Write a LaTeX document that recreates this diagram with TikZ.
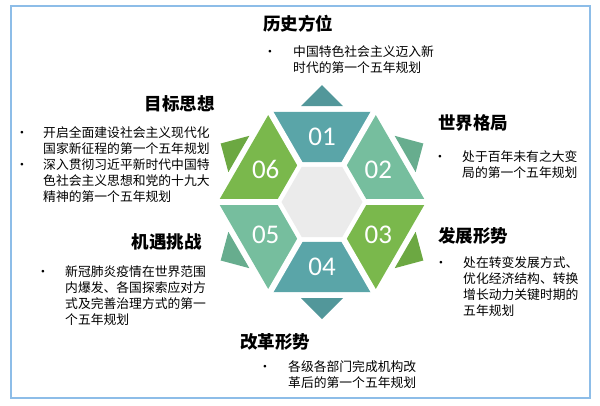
\documentclass[tikz,border=0pt]{standalone}
\usepackage{fontspec}
\setmainfont{Noto Sans CJK SC}
\newfontfamily\numfont{Carlito}
\usetikzlibrary{calc}
\definecolor{tealpc}{HTML}{5AA5A8}
\definecolor{tealtri}{HTML}{52979A}
\definecolor{mintpc}{HTML}{76BE9E}
\definecolor{minttri}{HTML}{67AD8E}
\definecolor{greenpc}{HTML}{7AB84C}
\definecolor{greentri}{HTML}{6CA842}
\definecolor{hexgrey}{HTML}{EBEBEB}
\definecolor{framec}{HTML}{8DBDE8}
\newcommand\blk[1]{\begin{tabular}[t]{@{}l@{}}#1\end{tabular}}
\begin{document}
\begin{tikzpicture}[x=1pt,y=-1pt,
  title/.style={font=\fontsize{17.5}{20}\selectfont\bfseries, inner sep=0pt},
  body/.style={font=\fontsize{12.8}{16}\selectfont, inner sep=0pt, anchor=base west},
  dot/.style={font=\fontsize{12.8}{16}\selectfont, inner sep=0pt, anchor=base},
  num/.style={font=\numfont\fontsize{27}{30}\selectfont, text=white, inner sep=0pt},
  gapline/.style={white, line width=6pt},
  frame/.style={draw=framec, line width=2pt}]
\useasboundingbox (0,0) rectangle (600,405);
\draw[frame] (11,6) rectangle (590,398);
\coordinate (c) at (322,202);
% pieces and triangles
\foreach \a/\col/\tri in {270/tealpc/tealtri, 330/mintpc/minttri, 30/greenpc/greentri, 90/tealpc/tealtri, 150/mintpc/minttri, 210/greenpc/greentri} {
  \fill[\col] ($(c)+({\a-30}:46)$) -- ($(c)+({\a-30}:104)$) -- ($(c)+({\a+30}:104)$) -- ($(c)+({\a+30}:46)$) -- cycle;
  \fill[\tri] ($(c)+(\a:96)+({\a+90}:21)$) -- ($(c)+(\a:117)$) -- ($(c)+(\a:96)+({\a-90}:21)$) -- cycle;
}
% white gaps
\foreach \a in {0,60,...,300} {
  \draw[gapline] (c) -- ($(c)+(\a:112)$);
}
% centre hexagon
\fill[hexgrey] ($(c)+(0:40.5)$) -- ($(c)+(60:40.5)$) -- ($(c)+(120:40.5)$) -- ($(c)+(180:40.5)$) -- ($(c)+(240:40.5)$) -- ($(c)+(300:40.5)$) -- cycle;
% numbers
\foreach \a/\n in {270/01, 330/02, 30/03, 90/04, 150/05, 210/06} {
  \node[num] (n\n) at ($(c)+(\a:65)$) {\n};
}
% texts
\node[title] (t1) at (298,24) {历史方位};
\node[dot] (d1) at (270,56) {•};
\node[body] (x1) at (293,56) {\blk{中国特色社会主义迈入新\\时代的第一个五年规划}};

\node[title, anchor=west] (t2) at (438,123) {世界格局};
\node[dot] (d2) at (440,161) {•};
\node[body] (x2) at (462,161) {\blk{处于百年未有之大变\\局的第一个五年规划}};

\node[title, anchor=west] (t3) at (438,236) {发展形势};
\node[dot] (d3) at (441,267) {•};
\node[body] (x3) at (463,267) {\blk{处在转变发展方式、\\优化经济结构、转换\\增长动力关键时期的\\五年规划}};

\node[title] (t4) at (275,342) {改革形势};
\node[dot] (d4) at (265,371) {•};
\node[body] (x4) at (288,371) {\blk{各级各部门完成机构改\\革后的第一个五年规划}};

\node[title, anchor=east] (t5) at (202,242) {机遇挑战};
\node[dot] (d5) at (43,276) {•};
\node[body] (x5) at (65,276) {\blk{新冠肺炎疫情在世界范围\\内爆发、各国探索应对方\\式及完善治理方式的第一\\个五年规划}};

\node[title, anchor=east] (t6) at (215,104) {目标思想};
\node[dot] (d6a) at (22,137) {•};
\node[body] (x6a) at (43,137) {\blk{开启全面建设社会主义现代化\\国家新征程的第一个五年规划}};
\node[dot] (d6b) at (22,169) {•};
\node[body] (x6b) at (43,169) {\blk{深入贯彻习近平新时代中国特\\色社会主义思想和党的十九大\\精神的第一个五年规划}};
\end{tikzpicture}
\end{document}
